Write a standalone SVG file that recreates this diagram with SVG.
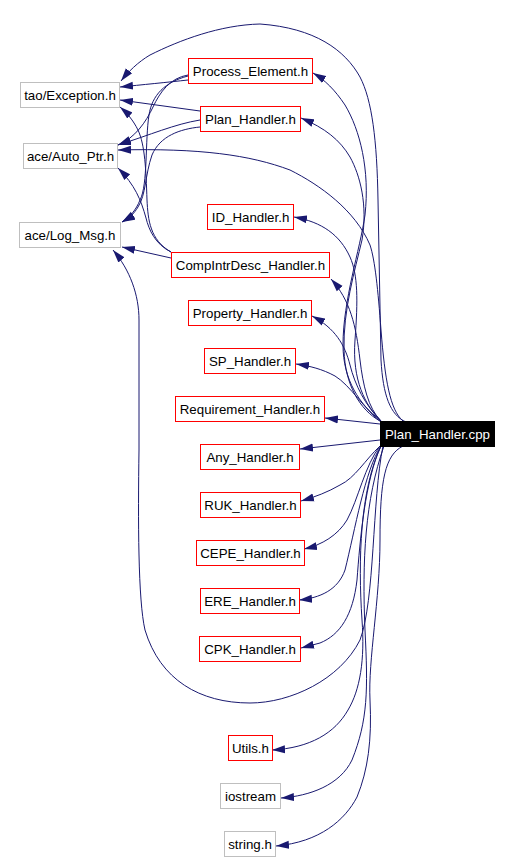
<svg xmlns="http://www.w3.org/2000/svg" width="512" height="862" viewBox="0 0 512 862">
<style>
.n rect{fill:#fff;stroke-width:1}
.r rect{stroke:#ff0000}
.g rect{stroke:#bfbfbf}
text{font-family:"Liberation Sans",Arial,sans-serif;font-size:13.3px;text-anchor:middle;fill:#000}
.e path{fill:none;stroke:#191970;stroke-width:1;marker-end:url(#a)}
</style>
<defs>
<marker id="a" markerWidth="14" markerHeight="9" refX="13" refY="4.5" orient="auto" markerUnits="userSpaceOnUse"><path d="M0,0.5 L13,4.5 L0,8.5 z" fill="#191970"/></marker>
</defs>
<rect width="512" height="862" fill="#fff"/>
<g class="e" id="edges">
<path d="M188,80 C170,82 140,85 120,87"/>
<path d="M188,75 C170,78 160,92 153,107 C146,122 135,138 118,145"/>
<path d="M188,76 C165,82 152,95 149,115 C145,140 148,185 140,200 C136,210 130,217 122,222"/>
<path d="M200,111 L120,100"/>
<path d="M200,120 C175,124 150,135 118,145"/>
<path d="M200,127 C180,129 160,136 152,155 C145,175 146,195 138,207 C134,214 128,219 122,222"/>
<path d="M171,252 C150,240 148,220 147,200 C146,170 145,145 138,130 C133,120 127,113 120,107"/>
<path d="M171,252 C155,244 149,230 146,218 C141,200 135,185 118,168"/>
<path d="M171,258 L122,247"/>
<path d="M406,422 C390,415 383,395 381,360 L378,200 C377,140 372,100 360,77 C345,50 315,28 260,24 C220,25 180,40 150,55 C138,62 128,72 121,81"/>
<path d="M403,421 C390,410 385,380 381,330 C378,290 375,260 370,245 C355,210 320,185 290,170 C250,155 200,148 118,150"/>
<path d="M380,420 C360,405 343,380 343,345 C343,300 360,250 365,215 C370,170 360,130 345,105 C335,90 325,80 313,73"/>
<path d="M380,421 C360,410 345,385 344,350 C343,310 355,270 362,240 C368,205 360,175 350,157 C340,140 325,128 301,118"/>
<path d="M381,421 C365,405 352,380 355,340 C358,300 358,275 350,257 C340,235 322,222 294,217"/>
<path d="M381,421 C368,408 363,385 360,360 C356,325 350,300 331,279"/>
<path d="M381,421 C365,405 355,385 350,365 C345,345 335,328 312,316"/>
<path d="M381,422 C365,410 350,385 335,376 C322,369 310,366 296,364"/>
<path d="M380,424 L325,418"/>
<path d="M380,440 L300,449"/>
<path d="M380,446 C365,460 355,478 340,485 C328,492 315,497 301,501"/>
<path d="M380,446 C365,465 358,500 347,520 C338,535 322,545 304,549"/>
<path d="M381,446 C365,470 355,530 345,570 C338,590 320,598 299,600"/>
<path d="M381,446 C365,480 360,540 357,580 C353,615 340,635 320,643 L301,648"/>
<path d="M383,446 C372,500 375,600 360,640 C340,680 290,703 250,703 C200,703 160,680 145,630 C138,600 138,520 139,450 L139,320 C139,295 130,270 113,250"/>
<path d="M381,446 C360,490 358,560 362,620 C365,660 360,690 348,710 C335,733 310,748 272,750"/>
<path d="M384,446 C365,500 362,560 365,630 C368,690 368,720 352,760 C340,785 310,796 281,798"/>
<path d="M403,446 C385,455 380,480 380,540 C380,600 368,660 370,700 C372,740 368,770 357,797 C345,820 320,842 276,846"/>
</g>
<g id="n_exc" class="n g"><rect x="20.5" y="82.5" width="99" height="25"/><text x="70" y="99.5">tao/Exception.h</text></g>
<g id="n_auto" class="n g"><rect x="23.5" y="143.5" width="94" height="25"/><text x="70.5" y="160.5">ace/Auto_Ptr.h</text></g>
<g id="n_log" class="n g"><rect x="19.5" y="222.5" width="101" height="25"/><text x="70" y="239.5">ace/Log_Msg.h</text></g>
<g id="n_pe" class="n r"><rect x="188.5" y="58.5" width="124" height="25"/><text x="250.5" y="75.5">Process_Element.h</text></g>
<g id="n_ph" class="n r"><rect x="200.5" y="106.5" width="100" height="25"/><text x="250.5" y="123.5">Plan_Handler.h</text></g>
<g id="n_id" class="n r"><rect x="207.5" y="204.5" width="86" height="25"/><text x="250.5" y="221.5">ID_Handler.h</text></g>
<g id="n_cid" class="n r"><rect x="171.5" y="252.5" width="158" height="25"/><text x="250.5" y="269.5">CompIntrDesc_Handler.h</text></g>
<g id="n_prop" class="n r"><rect x="188.5" y="300.5" width="123" height="25"/><text x="250" y="317.5">Property_Handler.h</text></g>
<g id="n_sp" class="n r"><rect x="204.5" y="348.5" width="91" height="25"/><text x="250" y="365.5">SP_Handler.h</text></g>
<g id="n_req" class="n r"><rect x="175.5" y="396.5" width="149" height="25"/><text x="250" y="413.5">Requirement_Handler.h</text></g>
<g id="n_cpp"><rect x="380.5" y="421.5" width="114" height="25" fill="#000" stroke="#000"/><text x="437.5" y="438.5" style="fill:#fff">Plan_Handler.cpp</text></g>
<g id="n_any" class="n r"><rect x="200.5" y="444.5" width="99" height="25"/><text x="250" y="461.5">Any_Handler.h</text></g>
<g id="n_ruk" class="n r"><rect x="200.5" y="492.5" width="100" height="25"/><text x="250.5" y="509.5">RUK_Handler.h</text></g>
<g id="n_cepe" class="n r"><rect x="196.5" y="540.5" width="108" height="25"/><text x="250.5" y="557.5">CEPE_Handler.h</text></g>
<g id="n_ere" class="n r"><rect x="200.5" y="588.5" width="99" height="25"/><text x="250" y="605.5">ERE_Handler.h</text></g>
<g id="n_cpk" class="n r"><rect x="199.5" y="636.5" width="101" height="25"/><text x="250" y="653.5">CPK_Handler.h</text></g>
<g id="n_utils" class="n r"><rect x="228.5" y="735.5" width="44" height="25"/><text x="250.5" y="752.5">Utils.h</text></g>
<g id="n_ios" class="n g"><rect x="220.5" y="783.5" width="60" height="25"/><text x="250.5" y="800.5">iostream</text></g>
<g id="n_str" class="n g"><rect x="224.5" y="831.5" width="51" height="25"/><text x="250" y="848.5">string.h</text></g>
</svg>
